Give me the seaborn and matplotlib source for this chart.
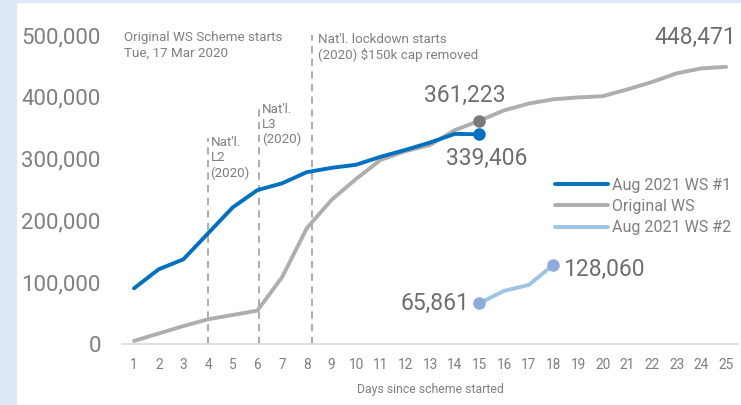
import numpy as np
import pandas as pd
import seaborn as sns
import matplotlib.pyplot as plt
from matplotlib.patches import Rectangle

# veriler
days = list(range(1, 26))
ws1_days = list(range(1, 16))
ws1_vals = [90100, 120900, 137000, 179000, 221000, 249000, 260000, 278000,
            285000, 290000, 303000, 314000, 326000, 340000, 339406]
orig_vals = [5000, 17000, 29000, 40000, 47000, 54000, 108000, 187000, 233000,
             267000, 298000, 312000, 322000, 346000, 361223, 378000, 389000,
             396000, 399000, 401000, 412000, 424000, 438000, 446000, 448471]
ws2_days = [15, 16, 17, 18]
ws2_vals = [65861, 86000, 95500, 128060]

events_x = [0.45, 4, 6.08, 8.2]
events_top = [503000, 333000, 387000, 500000]
events_text = ["Original WS Scheme starts\nTue, 17 Mar 2020",
               "Nat'l.\nL2\n(2020)",
               "Nat'l.\nL3\n(2020)",
               "Nat'l. lockdown starts\n(2020) \\$150k cap removed"]

sns.set_style("white")
plt.rcParams['font.family'] = ['Roboto', 'DejaVu Sans']

c_blue = "#0070c0"
c_gray = "#b0adad"
c_light = "#9dc3e6"
c_text = "#7f7f7f"

fig = plt.figure(figsize=(7.41, 4.05), dpi=100)
fig.patches.append(Rectangle((0, 0), 16 / 741, 1, transform=fig.transFigure,
                             color="#dde9f6", zorder=0))
fig.patches.append(Rectangle((0, 1 - 2 / 405), 1, 2 / 405, transform=fig.transFigure,
                             color="#dde9f6", zorder=0))

ax = fig.add_axes([121.7 / 741, (405 - 344) / 405, 616.7 / 741, 315 / 405])
ax.set_xlim(0.5, 25.5)
ax.set_ylim(0, 509700)

# dikey kesikli çizgiler
ax.vlines(events_x, 0, events_top, colors="#a6a6a6", linestyles=(0, (4, 3)), linewidth=1.3)
text_off = [0.15, 0.1, 0.1, 0.25]
for x, top, t, o in zip(events_x, events_top, events_text, text_off):
    ax.text(x + o, top + 3000, t, fontsize=9.6, color=c_text, va="top", ha="left",
            linespacing=1.2)

df1 = pd.DataFrame({"day": ws1_days, "val": ws1_vals})
df0 = pd.DataFrame({"day": days, "val": orig_vals})
df2 = pd.DataFrame({"day": ws2_days, "val": ws2_vals})

sns.lineplot(data=df1, x="day", y="val", color=c_blue, linewidth=2.8, ax=ax,
             label="Aug 2021 WS #1", zorder=4)
sns.lineplot(data=df0, x="day", y="val", color=c_gray, linewidth=2.8, ax=ax,
             label="Original WS", zorder=3)
sns.lineplot(data=df2, x="day", y="val", color=c_light, linewidth=2.8, ax=ax,
             label="Aug 2021 WS #2", zorder=4)

# işaretçiler
ax.plot(ws1_days[-1], ws1_vals[-1], "o", color=c_blue, markersize=8, zorder=5)
ax.plot(days[14], orig_vals[14], "o", color="#7a7a7a", markersize=8, zorder=5)
ax.plot([ws2_days[0], ws2_days[-1]], [ws2_vals[0], ws2_vals[-1]], "o",
        color="#8faadc", markersize=8, zorder=5)

# veri etiketleri
lab = dict(fontsize=16.5, color="#6e6e6e")
ax.text(days[14] - 0.6, orig_vals[14] + 22000, f"{orig_vals[14]:,}", ha="center", va="bottom", **lab)
ax.text(ws1_days[-1] + 0.3, ws1_vals[-1] - 20000, f"{ws1_vals[-1]:,}", ha="center", va="top", **lab)
ax.text(days[-1] - 1.25, orig_vals[-1] + 29000, f"{orig_vals[-1]:,}", ha="center", va="bottom", **lab)
ax.text(ws2_days[0] - 0.4, ws2_vals[0], f"{ws2_vals[0]:,}", ha="right", va="center", **lab)
ax.text(ws2_days[-1] + 0.4, ws2_vals[-1] - 8000, f"{ws2_vals[-1]:,}", ha="left", va="center", **lab)

ax.set_xticks(days)
ax.set_xticklabels([str(d) for d in days])
ax.set_yticks(range(0, 500001, 100000))
ax.set_yticklabels([f"{v:,}" for v in range(0, 500001, 100000)])
ax.tick_params(axis="x", labelsize=9.8, labelcolor=c_text, length=0, pad=10)
ax.tick_params(axis="y", labelsize=16, labelcolor=c_text, length=0, pad=15)
ax.set_xlabel("Days since scheme started", fontsize=8.8, color=c_text, labelpad=8)
ax.set_ylabel("")

sns.despine(ax=ax, left=True)
ax.spines["bottom"].set_color("#d9d9d9")
ax.spines["bottom"].set_linewidth(1.2)

leg = ax.legend(loc="upper left", bbox_to_anchor=(555 / 741, 1 - 178 / 405),
                bbox_transform=fig.transFigure, frameon=False, fontsize=11.5,
                handlelength=3.3, handletextpad=0.3, labelspacing=0.38,
                borderpad=0, borderaxespad=0)
for t in leg.get_texts():
    t.set_color(c_text)

fig.savefig("out.png", dpi=100)
